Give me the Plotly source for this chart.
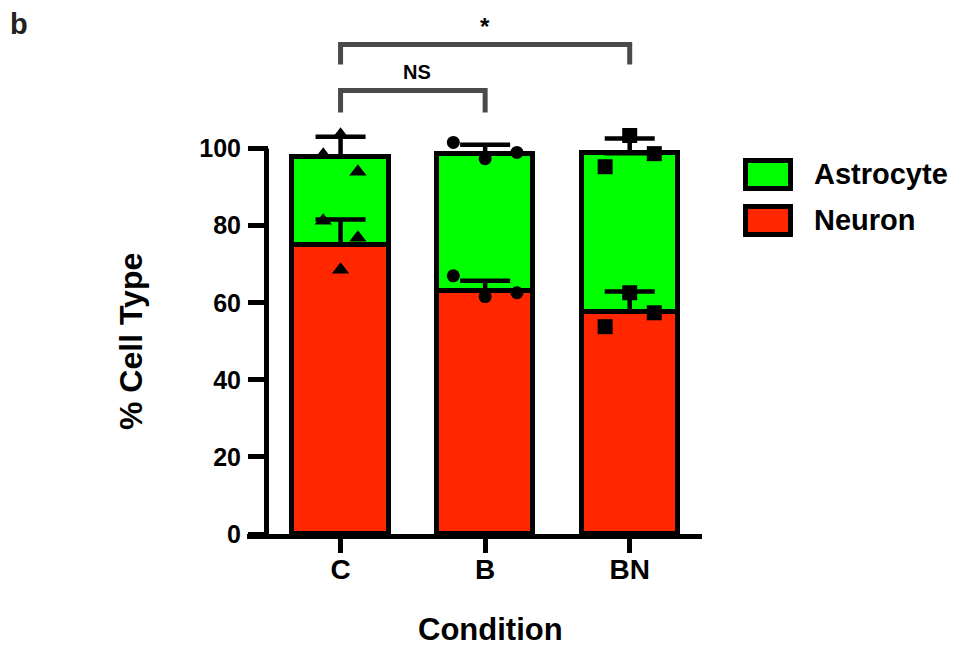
import plotly.graph_objects as go

# ---------------- data ----------------
categories = ["C", "B", "BN"]
neuron_mean = [75.1, 63.1, 57.7]
astro_mean = [22.8, 35.6, 41.1]
neuron_err = [6.5, 2.6, 5.2]
astro_err = [5.2, 2.3, 3.8]
# individual replicates (left, centre, right within each bar)
neuron_pts = [[81.3, 68.6, 76.9], [67.0, 61.6, 62.6], [53.8, 62.6, 57.4]]
astro_pts = [[23.3, 28.5, 18.9], [38.5, 34.3, 35.9], [37.6, 45.7, 41.0]]
y_ticks = [0, 20, 40, 60, 80, 100]
series_names = ["Astrocyte", "Neuron"]
sig_labels = ["NS", "*"]
# comparisons: (group a, group b, bracket top, bracket foot)
comparisons = [(0, 1, 115.1, 109.4), (0, 2, 127.0, 121.8)]

# ---------------- style ----------------
GREEN = "#00FF00"
RED = "#FF2600"
GRAY = "#4a4a4a"
FONT = "Arial, Liberation Sans, sans-serif"
symbols = ["triangle-up", "circle", "square"]
msize = [15, 13, 15]
spread = [0.12, 0.22, 0.17]
XR = [-0.495, 2.5]
YR = [0, 130]
OFF = 8                      # page body margin
W, H = 956 - OFF, 650 - OFF
L, T = 269 - OFF, 25
PW, PH = 433, 501
R = W - L - PW
B = H - T - PH


def pxx(p):   # page pixel -> paper x
    return (p - L - OFF) / PW


def pxy(p):   # page pixel -> paper y
    return (T + OFF + PH - p) / PH


def cx(c):    # category position -> paper x
    return (c - XR[0]) / (XR[1] - XR[0])


xs = list(range(len(categories)))

fig = go.Figure()
fig.add_trace(go.Bar(x=xs, y=neuron_mean, name=series_names[1], width=0.665,
                     marker=dict(color=RED, line=dict(color="black", width=5)),
                     showlegend=False))
fig.add_trace(go.Bar(x=xs, y=astro_mean, name=series_names[0], width=0.665,
                     marker=dict(color=GREEN, line=dict(color="black", width=5)),
                     showlegend=False))

# error bars (upward only) placed at stacked tops
tops = [n + a for n, a in zip(neuron_mean, astro_mean)]
for yv, ev in [(neuron_mean, neuron_err), (tops, astro_err)]:
    fig.add_trace(go.Scatter(
        x=xs, y=yv, mode="markers",
        marker=dict(size=1, color="rgba(0,0,0,0)"),
        error_y=dict(type="data", symmetric=False, array=ev,
                     arrayminus=[0] * len(ev), color="black",
                     thickness=4.5, width=25),
        showlegend=False, hoverinfo="skip"))

# individual points
for i in xs:
    px = [i - spread[i], i, i + spread[i]]
    fig.add_trace(go.Scatter(
        x=px, y=neuron_pts[i], mode="markers",
        marker=dict(symbol=symbols[i], size=msize[i], color="black"),
        showlegend=False))
    fig.add_trace(go.Scatter(
        x=px, y=[neuron_mean[i] + v for v in astro_pts[i]], mode="markers",
        marker=dict(symbol=symbols[i], size=msize[i], color="black"),
        showlegend=False))

# significance brackets
for (a, b, ytop, yfoot) in comparisons:
    fig.add_trace(go.Scatter(x=[a, a, b, b], y=[yfoot, ytop, ytop, yfoot],
                             mode="lines", line=dict(color=GRAY, width=5),
                             showlegend=False, hoverinfo="skip"))

annotations = [
    dict(text=sig_labels[0], x=cx(0.53), y=pxy(72), xanchor="center", yanchor="middle",
         font=dict(family=FONT, size=20, color="black", weight="bold")),
    dict(text=sig_labels[1], x=cx(1.0), y=pxy(26), xanchor="center", yanchor="middle",
         font=dict(family=FONT, size=24, color="black", weight="bold")),
    dict(text="b", x=pxx(8), y=pxy(24), xanchor="left", yanchor="middle",
         font=dict(family=FONT, size=29, color="#222", weight="bold")),
    dict(text="% Cell Type", x=pxx(131), y=pxy(342), textangle=-90,
         xanchor="center", yanchor="middle",
         font=dict(family=FONT, size=32, color="black", weight="bold")),
    dict(text="Condition", x=pxx(490), y=pxy(649), xanchor="center", yanchor="bottom",
         font=dict(family=FONT, size=31, color="black", weight="bold")),
    dict(text=series_names[0], x=pxx(812), y=pxy(174), xanchor="left", yanchor="middle",
         font=dict(family=FONT, size=29, color="black", weight="bold")),
    dict(text=series_names[1], x=pxx(812), y=pxy(220), xanchor="left", yanchor="middle",
         font=dict(family=FONT, size=29, color="black", weight="bold")),
]
for a in annotations:
    a.update(xref="paper", yref="paper", showarrow=False)

shapes = []
# y axis line (only 0..100) and left extension of the x axis line
shapes.append(dict(type="line", xref="paper", yref="paper",
                   x0=-2.5 / PW, x1=-2.5 / PW, y0=-5 / PH, y1=100 / YR[1],
                   line=dict(color="black", width=5)))
shapes.append(dict(type="line", xref="paper", yref="paper",
                   x0=pxx(247), x1=0.0, y0=-2.5 / PH, y1=-2.5 / PH,
                   line=dict(color="black", width=5)))
# legend boxes
for (y0, y1, col) in [(160.5, 188.5, GREEN), (206.5, 234.5, RED)]:
    shapes.append(dict(type="rect", xref="paper", yref="paper",
                       x0=pxx(745.5), x1=pxx(790.5), y0=pxy(y1), y1=pxy(y0),
                       fillcolor=col, line=dict(color="black", width=5)))

fig.update_layout(
    width=W, height=H, autosize=False,
    margin=dict(l=L, r=R, t=T, b=B, pad=0),
    barmode="stack", bargap=0,
    plot_bgcolor="white", paper_bgcolor="white",
    shapes=shapes, annotations=annotations,
    xaxis=dict(range=XR, tickvals=xs, ticktext=categories,
               showgrid=False, zeroline=False, showline=True,
               linecolor="black", linewidth=5,
               ticks="outside", ticklen=14, tickwidth=5, tickcolor="black",
               ticklabelstandoff=-8,
               tickfont=dict(family=FONT, size=28, color="black", weight="bold")),
    yaxis=dict(range=YR, tickvals=y_ticks,
               showgrid=False, zeroline=False, showline=False,
               ticks="outside", ticklen=20, tickwidth=5, tickcolor="black",
               ticklabelstandoff=2,
               tickfont=dict(family=FONT, size=25, color="black", weight="bold")),
)

fig.write_html("out.html")
